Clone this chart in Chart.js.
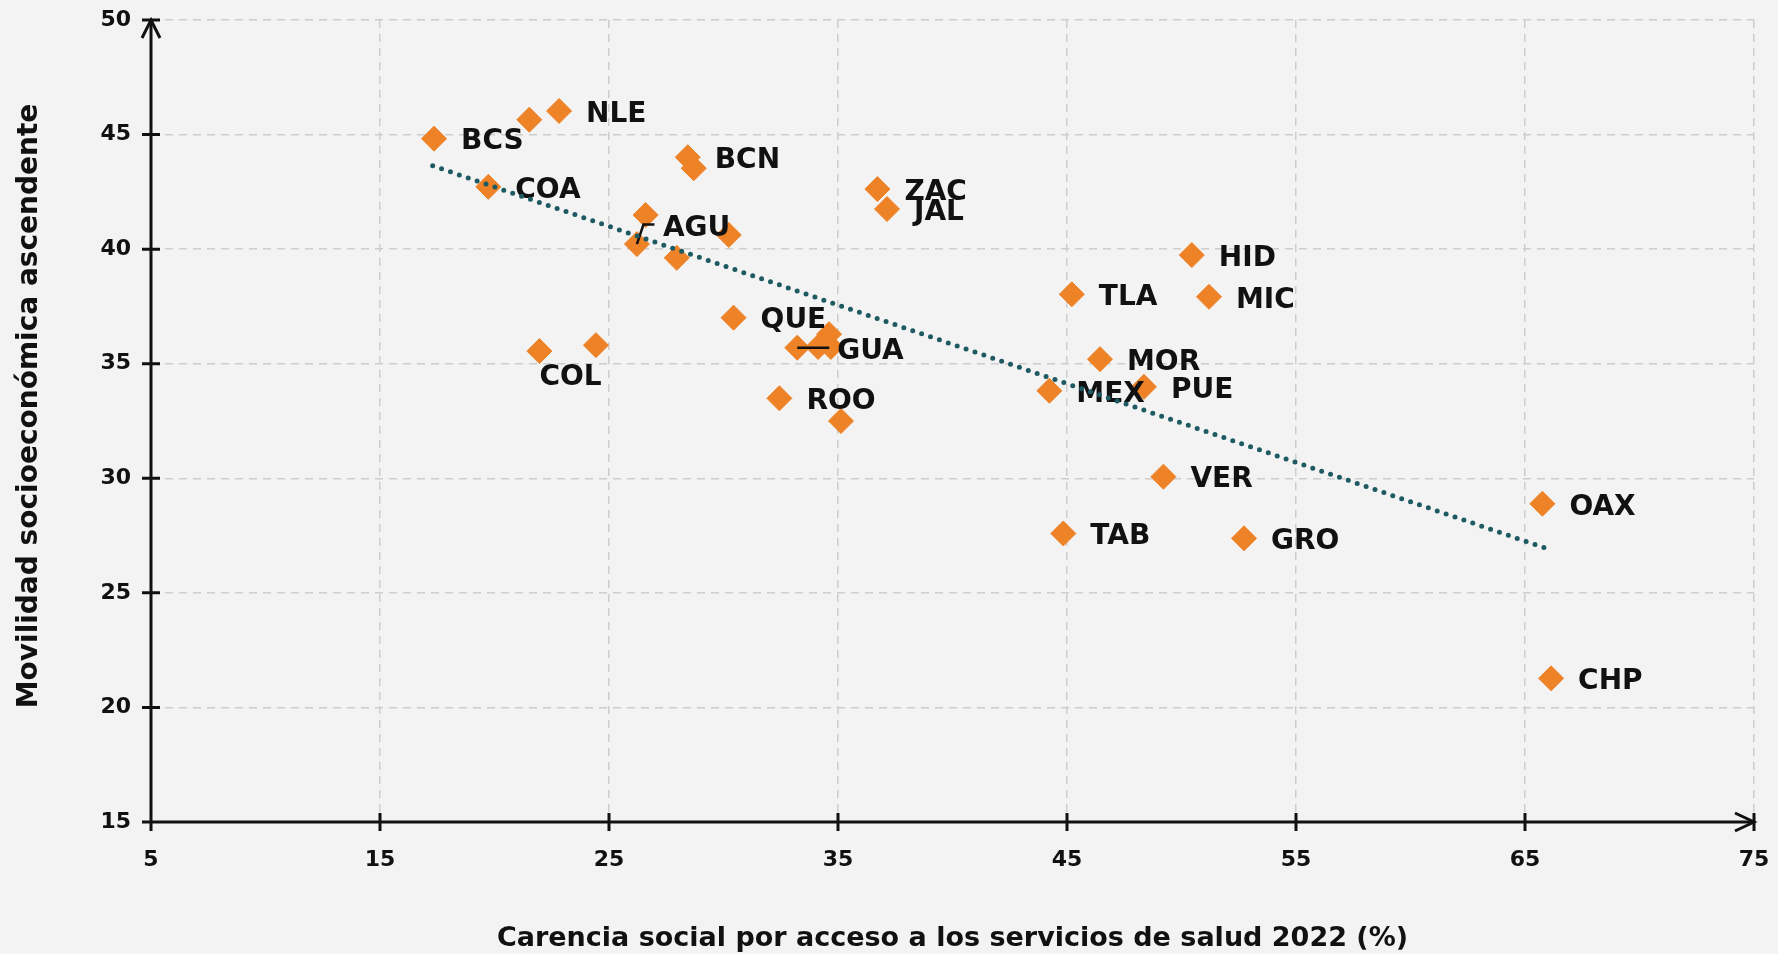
<!DOCTYPE html>
<html>
<head>
<meta charset="utf-8">
<script src="https://cdn.jsdelivr.net/npm/chart.js@4.4.1/dist/chart.umd.min.js"></script>
<style>
  html, body { margin: 0; padding: 0; background: #f3f3f3; }
  #wrap { width: 1778px; height: 954px; }
</style>
</head>
<body>
<div id="wrap"><canvas id="chart" width="1778" height="954"></canvas></div>
<script>
// Estados (vacío = punto sin etiqueta)
const estados = [
  "BCS", "", "NLE", "COA", "BCN", "", "ZAC", "JAL",
  "", "AGU", "", "", "QUE", "COL", "", "GUA",
  "", "", "", "ROO", "", "TLA", "HID", "MIC",
  "MOR", "MEX", "PUE", "VER", "TAB", "GRO", "OAX", "CHP"
]
// Carencia social por acceso a los servicios de salud 2022 (%)
const carenciaSalud = [
  17.36, 21.52, 22.82, 19.73, 28.44, 28.70, 36.72, 37.14,
  26.60, 26.22, 30.23, 27.96, 30.44, 21.96, 24.43, 33.22,
  34.13, 34.61, 34.69, 32.44, 35.13, 45.21, 50.45, 51.20,
  46.44, 44.23, 48.36, 49.21, 44.84, 52.73, 65.76, 66.14
]
// Movilidad socioeconómica ascendente
const movilidad = [
  44.82, 45.65, 46.03, 42.72, 44.01, 43.53, 42.62, 41.75,
  41.49, 40.22, 40.62, 39.62, 37.01, 35.55, 35.81, 35.70,
  35.73, 36.29, 35.73, 33.49, 32.50, 38.03, 39.74, 37.92,
  35.20, 33.82, 33.99, 30.07, 27.59, 27.38, 28.89, 21.27
]
// Línea de tendencia (extremos)
const tendenciaX = [17.3, 66.05]
const tendenciaY = [43.64, 26.9]

const ticksX = [5, 15, 25, 35, 45, 55, 65, 75]
const ticksY = [15, 20, 25, 30, 35, 40, 45, 50]

const tituloY = "Movilidad socioeconómica ascendente"

const FONT = '"DejaVu Sans", sans-serif'
const INK = "#111111"

const ejesYEtiquetas = {
  id: "ejesYEtiquetas",
  beforeDraw(chart) {
    const { ctx, width, height } = chart
    ctx.save()
    ctx.fillStyle = "#f3f3f3"
    ctx.fillRect(0, 0, width, height)
    ctx.restore()
  },
  afterDatasetDraw(chart, args) {
    if (args.index !== 0) return
    const { ctx } = chart
    const sx = chart.scales.x
    const sy = chart.scales.y
    ctx.save()
    ctx.font = `bold 28px ${FONT}`
    ctx.fillStyle = INK
    ctx.strokeStyle = INK
    ctx.lineWidth = 2.5
    ctx.textBaseline = "middle"
    estados.forEach((code, i) => {
      if (!code) return
      const px = sx.getPixelForValue(carenciaSalud[i])
      const py = sy.getPixelForValue(movilidad[i])
      let lx = px + 27
      let ly = py + 3.5
      if (code === "AGU") {
        ctx.beginPath()
        ctx.moveTo(px, py)
        ctx.lineTo(px + 6.5, py - 19.5)
        ctx.lineTo(px + 17.5, py - 19.5)
        ctx.stroke()
        lx = px + 26
        ly = py - 15.5
      } else if (code === "GUA") {
        ctx.beginPath()
        ctx.moveTo(px, py)
        ctx.lineTo(px + 32, py)
        ctx.stroke()
        lx = px + 40
        ly = py + 4.5
      } else if (code === "COL") {
        lx = px
        ly = py + 26.5
      }
      ctx.fillText(code, lx, ly)
    })
    ctx.restore()
  },
  afterDraw(chart) {
    const { ctx, chartArea } = chart
    const sx = chart.scales.x
    const sy = chart.scales.y
    const left = chartArea.left
    const right = chartArea.right
    const top = chartArea.top
    const bottom = chartArea.bottom
    ctx.save()
    ctx.strokeStyle = INK
    ctx.lineWidth = 3
    ctx.lineCap = "butt"
    ctx.lineJoin = "miter"
    ctx.beginPath()
    ctx.moveTo(left, bottom + 9)
    ctx.lineTo(left, top)
    ctx.moveTo(left - 9, bottom)
    ctx.lineTo(right, bottom)
    ticksY.forEach(v => {
      const p = sy.getPixelForValue(v)
      ctx.moveTo(left - 9, p)
      ctx.lineTo(left + 9, p)
    })
    ticksX.forEach(v => {
      const p = sx.getPixelForValue(v)
      ctx.moveTo(p, bottom - 9)
      ctx.lineTo(p, bottom + 9)
    })
    ctx.stroke()
    // flechas
    ctx.beginPath()
    ctx.moveTo(left - 9, top + 18)
    ctx.lineTo(left, top)
    ctx.lineTo(left + 9, top + 18)
    ctx.moveTo(right - 19, bottom - 9)
    ctx.lineTo(right, bottom)
    ctx.lineTo(right - 19, bottom + 9)
    ctx.stroke()
    // título del eje Y
    ctx.translate(30, (top + bottom) / 2 - 15)
    ctx.rotate(-Math.PI / 2)
    ctx.font = `bold 28px ${FONT}`
    ctx.fillStyle = INK
    ctx.textAlign = "center"
    ctx.textBaseline = "middle"
    ctx.fillText(tituloY, 0, 0)
    ctx.restore()
  }
}

new Chart(document.getElementById("chart"), {
  type: "scatter",
  data: {
    datasets: [
      {
        type: "scatter",
        data: carenciaSalud.map((x, i) => ({ x: x, y: movilidad[i] })),
        pointStyle: "rectRot",
        pointRadius: 12.5,
        pointHoverRadius: 12.5,
        backgroundColor: "#ee8226",
        borderColor: "#ee8226",
        borderWidth: 1,
        order: 1
      },
      {
        type: "line",
        data: tendenciaX.map((x, i) => ({ x: x, y: tendenciaY[i] })),
        borderColor: "#1d5a62",
        borderWidth: 5,
        borderDash: [0, 9.4],
        borderCapStyle: "round",
        pointRadius: 0,
        fill: false,
        order: 0
      }
    ]
  },
  options: {
    responsive: false,
    animation: false,
    devicePixelRatio: 1,
    layout: { padding: { top: 20, right: 24, left: 0, bottom: 0 } },
    plugins: {
      legend: { display: false },
      tooltip: { enabled: false }
    },
    scales: {
      x: {
        type: "linear",
        min: 5,
        max: 75,
        afterFit: (s) => {
          s.height = 132
          s.paddingLeft = 0
          s.paddingRight = 0
        },
        afterBuildTicks: (s) => { s.ticks = ticksX.map(v => ({ value: v })) },
        grid: { color: "#cdcdcd", lineWidth: 1.5, drawTicks: false },
        border: { display: false, dash: [8, 6] },
        ticks: {
          autoSkip: false,
          maxRotation: 0,
          padding: 25,
          color: INK,
          font: { family: FONT, size: 22, weight: "bold" }
        },
        title: {
          display: true,
          text: "Carencia social por acceso a los servicios de salud 2022 (%)",
          color: INK,
          font: { family: FONT, size: 27, weight: "bold" },
          padding: { top: 0, bottom: -1 }
        }
      },
      y: {
        type: "linear",
        min: 15,
        max: 50,
        afterFit: (s) => {
          s.width = 151
          s.paddingTop = 0
          s.paddingBottom = 0
        },
        afterBuildTicks: (s) => { s.ticks = ticksY.map(v => ({ value: v })) },
        grid: { color: "#cdcdcd", lineWidth: 1.5, drawTicks: false },
        border: { display: false, dash: [8, 6] },
        ticks: {
          autoSkip: false,
          padding: 20,
          color: INK,
          font: { family: FONT, size: 22, weight: "bold" }
        },
        title: { display: false }
      }
    }
  },
  plugins: [ejesYEtiquetas]
})
</script>
</body>
</html>
